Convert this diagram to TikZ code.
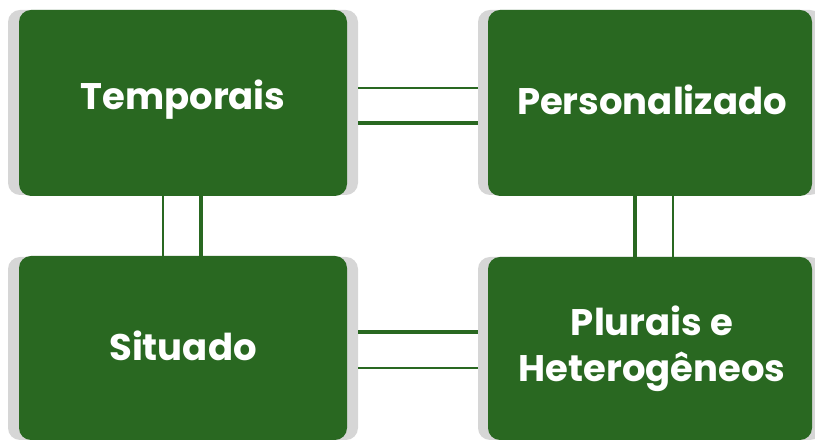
\documentclass[tikz,border=0pt]{standalone}
\usepackage{fontspec}
\setmainfont{Poppins}
\definecolor{boxgreen}{RGB}{41,104,33}
\definecolor{shadowgray}{RGB}{214,214,214}
\begin{document}
\begin{tikzpicture}[x=1pt,y=1pt,
  greenbox/.style={fill=boxgreen, rounded corners=12pt},
  shadowbox/.style={fill=shadowgray, rounded corners=12pt},
  label/.style={text=white, font=\fontsize{37}{46}\selectfont\bfseries, align=center},
  thinline/.style={draw=boxgreen, line width=1.3pt},
  thickline/.style={draw=boxgreen, line width=3.8pt}]
\useasboundingbox (0,0) rectangle (815,441);
\begin{scope}
\clip (0,0) rectangle (815,441);
% shadows
\fill[shadowbox] (8,246) rectangle (358,431);
\fill[shadowbox] (478,246) rectangle (822,431);
\fill[shadowbox] (8,1) rectangle (358,184);
\fill[shadowbox] (478,1) rectangle (822,184);
% boxes
\fill[greenbox] (19,245) rectangle (347,431);
\fill[greenbox] (488,245) rectangle (812,431);
\fill[greenbox] (19,1) rectangle (347,185);
\fill[greenbox] (488,1) rectangle (812,184);
\end{scope}
\node[label] (t) at (183,341) {Temporais};
\node[label] (p) at (652,341) {Personalizado};
\node[label] (s) at (183,95) {Situado};
\node[label] (h) at (652,92) {Plurais e\\Heterogêneos};
% connector anchors
\coordinate (a1) at (358,353);
\coordinate (a2) at (478,353);
\coordinate (b1) at (358,318);
\coordinate (b2) at (478,318);
\coordinate (c1) at (358,109);
\coordinate (c2) at (478,109);
\coordinate (d1) at (358,73);
\coordinate (d2) at (478,73);
\coordinate (e1) at (163,245);
\coordinate (e2) at (163,185);
\coordinate (f1) at (201,245);
\coordinate (f2) at (201,185);
\coordinate (g1) at (635,245);
\coordinate (g2) at (635,184);
\coordinate (k1) at (673,245);
\coordinate (k2) at (673,184);
\draw[thinline] (a1) -- (a2);
\draw[thickline] (b1) -- (b2);
\draw[thickline] (c1) -- (c2);
\draw[thinline] (d1) -- (d2);
\draw[thinline] (e1) -- (e2);
\draw[thickline] (f1) -- (f2);
\draw[thickline] (g1) -- (g2);
\draw[thinline] (k1) -- (k2);
\end{tikzpicture}
\end{document}
